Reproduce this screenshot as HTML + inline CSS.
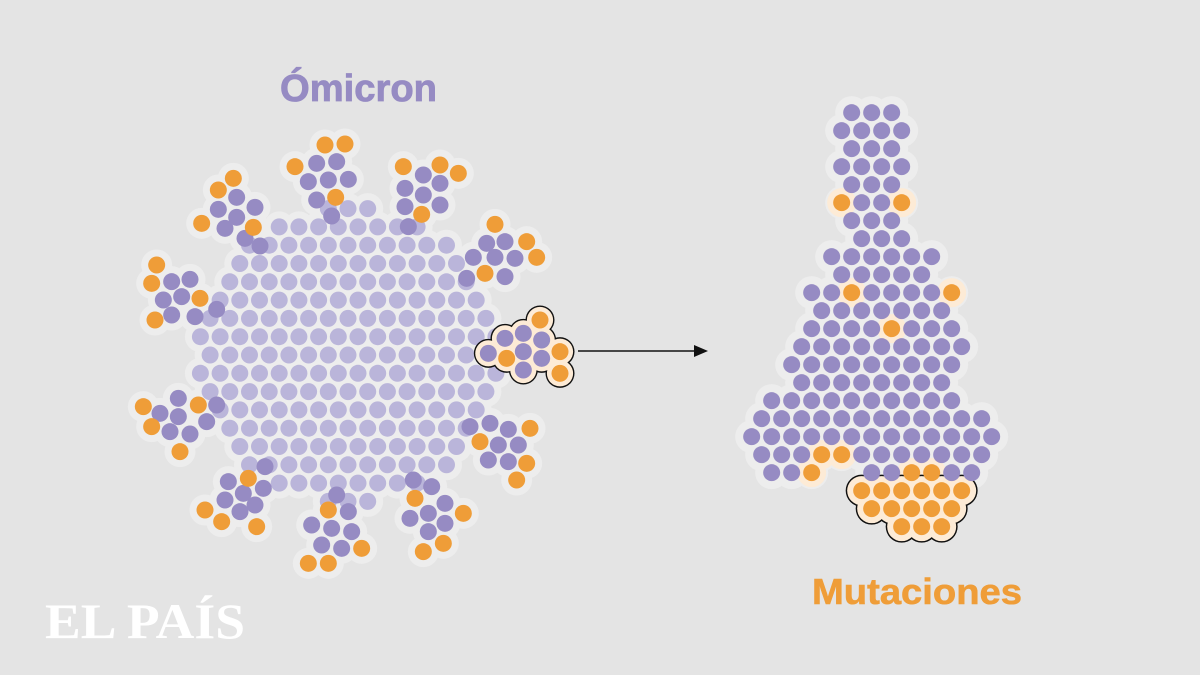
<!DOCTYPE html>
<html><head><meta charset="utf-8"><style>
html,body{margin:0;padding:0;background:#e4e4e4;}
svg{display:block}
</style></head><body>
<svg id="s" width="1200" height="675" xmlns="http://www.w3.org/2000/svg">
<rect width="1200" height="675" fill="#e4e4e4"/>
<g id="g0"></g><g id="g1"></g><g id="g2"></g><g id="g3"></g>
<line x1="578" y1="351" x2="696" y2="351" stroke="#111" stroke-width="1.6"/>
<polygon points="708,351 694,345 694,357" fill="#111"/>
<text x="280" y="101" textLength="157" lengthAdjust="spacingAndGlyphs" font-family="Liberation Sans, sans-serif" font-weight="bold" font-size="38" fill="#968bc3" stroke="#968bc3" stroke-width="0.8">Ómicron</text>
<text x="812" y="604" textLength="210" lengthAdjust="spacingAndGlyphs" font-family="Liberation Sans, sans-serif" font-weight="bold" font-size="36" fill="#ef9d38" stroke="#ef9d38" stroke-width="0.6">Mutaciones</text>
<text x="45" y="638" textLength="200" lengthAdjust="spacingAndGlyphs" font-family="Liberation Serif, serif" font-weight="bold" font-size="50" fill="#ffffff">EL PAÍS</text>
</svg>
<script>
var NS="http://www.w3.org/2000/svg";
function c(g,x,y,r,f){var e=document.createElementNS(NS,"circle");e.setAttribute("cx",x);e.setAttribute("cy",y);e.setAttribute("r",r);e.setAttribute("fill",f);document.getElementById(g).appendChild(e);}
var P="#968bc3",L="#bab5da",O="#ef9d38",H="#ededed",C="#fdebd6";
var R=8.5;
var cx=348,cy=355,core=[];
for(var j=-9;j<=9;j++){var y=cy+j*18.3;var off=(j%2!=0)?10:0;for(var i=-9;i<=9;i++){var x=cx+i*19.7+off;var dx=x-cx,dy=y-cy;if(dx*dx+dy*dy<=150*150)core.push([x,y]);}}
var sp={p:[[560,130],[620,125],[535,185],[595,180],[655,178],[560,240],[605,288],
[320,232],[375,262],[265,268],[320,292],[285,325],[345,355],[390,378],
[880,165],[825,205],[930,190],[880,225],[930,255],[825,260],[835,320],
[1070,370],[1125,365],[1030,412],[1095,412],[1155,415],[1010,475],[1125,470],
[125,485],[180,478],[100,540],[155,530],[125,585],[195,590],[260,568],
[145,835],[260,855],[90,880],[145,890],[230,905],[120,935],[180,942],
[1020,920],[1080,910],[1135,928],[1105,975],[1165,975],[1075,1020],[1135,1025],
[405,1040],[295,1085],[400,1105],[340,1120],[285,1140],[375,1155],[330,1175],
[620,1125],[655,1175],[545,1215],[605,1225],[665,1235],[575,1275],[635,1285],
[850,1080],[905,1100],[945,1150],[840,1195],[895,1180],[945,1210],[895,1235]],
o:[[585,75],[645,72],[495,140],[617,232],[310,175],[265,210],[215,310],[370,322],
[820,140],[930,135],[985,160],[875,283],[1095,313],[1190,365],[1220,412],[1065,460],
[80,435],[65,490],[210,535],[75,600],[40,860],[205,855],[65,920],[150,995],
[1200,925],[1050,965],[1190,1030],[1160,1080],[355,1075],[225,1170],[275,1205],[380,1220],
[595,1170],[695,1285],[535,1330],[595,1330],[855,1135],[1000,1180],[940,1270],[880,1295]]};
var hp=[[1125,655],[1180,640],[1235,660],[1075,700],[1180,695],[1235,715],[1180,750]],
ho=[[1230,600],[1290,695],[1130,715],[1290,760]];
function z(p){return [p[0]/3+130,p[1]/3+120];}
core.forEach(function(p){c("g0",p[0],p[1],R+7,H);});
sp.p.concat(sp.o).forEach(function(q){var p=z(q);c("g0",p[0],p[1],R+7,H);});
core.forEach(function(p){c("g2",p[0],p[1],R,L);});
sp.p.forEach(function(q){var p=z(q);c("g3",p[0],p[1],R,P);});
sp.o.forEach(function(q){var p=z(q);c("g3",p[0],p[1],R,O);});
var hall=hp.concat(ho);
hall.forEach(function(q){var p=z(q);c("g3",p[0],p[1],R+6,"#111");});
hall.forEach(function(q){var p=z(q);c("g3",p[0],p[1],R+4.6,C);});
hp.forEach(function(q){var p=z(q);c("g3",p[0],p[1],R,P);});
ho.forEach(function(q){var p=z(q);c("g3",p[0],p[1],R,O);});
var rows=[[68,365,3],[122,335,4],[176,365,3],[230,335,4],[284,365,3],[338,335,4,[0,3]],[392,365,3],[446,395,3],
[500,305,6],[554,335,5],[608,245,8,[2,7]],[662,275,7],[716,245,8,[4]],[770,215,9],[824,185,9],[878,215,8],
[932,125,10],[986,95,12],[1040,65,13],[1094,95,12,[3,4]],[1148,125,11,[2,7,8],[3,4]],
[1202,395,6,[0,1,2,3,4,5]],[1256,425,5,[0,1,2,3,4]],[1310,515,3,[0,1,2]]];
var rc=[];
rows.forEach(function(r){for(var i=0;i<r[2];i++){if(r[4]&&r[4].indexOf(i)>=0)continue;var x=730+(r[1]+i*60)/3,y=90+r[0]/3;var o=r[3]&&r[3].indexOf(i)>=0;rc.push([x,y,o,r[0]>=1202]);}});
rc.forEach(function(p){c("g1",p[0],p[1],R+8,H);});
rc.forEach(function(p){if(p[2]&&!p[3])c("g1",p[0],p[1],R+6,C);});
rc.forEach(function(p){if(p[3])c("g1",p[0],p[1],R+7.5,"#111");});
rc.forEach(function(p){if(p[3])c("g1",p[0],p[1],R+6,C);});
rc.forEach(function(p){c("g2",p[0],p[1],R,p[2]?O:P);});
</script>
</body></html>
